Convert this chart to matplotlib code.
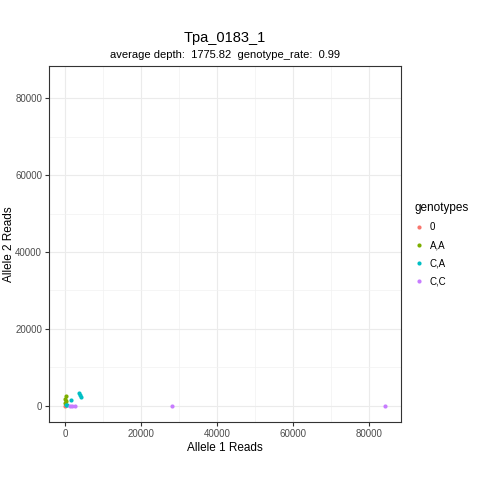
import matplotlib
matplotlib.use("Agg")
import matplotlib.pyplot as plt
from matplotlib.lines import Line2D
import numpy as np

plt.rcParams['font.family'] = ['Liberation Sans', 'DejaVu Sans']

genotypes = ["0", "A,A", "C,A", "C,C"]
colors = ["#F8766D", "#7CAE00", "#00BFC4", "#C77CFF"]
allele1 = {
    "0": [0],
    "A,A": [150, 80, 250, 0],
    "C,A": [1600, 3700, 3950, 4200, 300, 500],
    "C,C": [1300, 1900, 2600, 28200, 84200],
}
allele2 = {
    "0": [0],
    "A,A": [2500, 1800, 1200, 600],
    "C,A": [1500, 3200, 2750, 2300, 100, 300],
    "C,C": [50, 40, 30, 0, 0],
}
title = "Tpa_0183_1"
subtitle = "average depth:  1775.82  genotype_rate:  0.99"
ticks = [0, 20000, 40000, 60000, 80000]

fig = plt.figure(figsize=(4.8, 4.8), dpi=100)
ax = fig.add_axes([0.102, 0.121, 0.733, 0.7415])

for g, c in zip(genotypes, colors):
    ax.scatter(allele1[g], allele2[g], s=9, color=c, linewidths=0, zorder=3)

hi = 84200
pad = hi * 0.05
ax.set_xlim(-pad, hi + pad)
ax.set_ylim(-pad, hi + pad)
ax.set_xticks(ticks)
ax.set_yticks(ticks)
ax.set_xticks([10000, 30000, 50000, 70000], minor=True)
ax.set_yticks([10000, 30000, 50000, 70000], minor=True)
ax.grid(True, which="major", color="#EBEBEB", linewidth=0.8)
ax.grid(True, which="minor", color="#F2F2F2", linewidth=0.5)
ax.set_axisbelow(True)
ax.tick_params(which="minor", length=0)
ax.tick_params(which="major", length=3, color="#333333", labelsize=7, labelcolor="#4D4D4D", pad=2)
for sp in ax.spines.values():
    sp.set_color("#333333")
    sp.set_linewidth(0.8)

ax.set_xlabel("Allele 1 Reads", fontsize=8.5, labelpad=2)
ax.set_ylabel("Allele 2 Reads", fontsize=8.5)
ax.yaxis.set_label_coords(-0.097, 0.5)

fig.text(0.468, 0.912, title, ha="center", va="baseline", fontsize=10.5)
fig.text(0.468, 0.880, subtitle, ha="center", va="baseline", fontsize=8)

handles = [Line2D([0], [0], marker="o", linestyle="", markersize=3,
                  markerfacecolor=c, markeredgewidth=0) for c in colors]
leg = fig.legend(handles, genotypes, title="genotypes", loc="upper left",
                 bbox_to_anchor=(0.855, 0.588), frameon=False, fontsize=7,
                 title_fontsize=8.5, labelspacing=0.85, handletextpad=0.6,
                 handlelength=1.0, borderaxespad=0)
leg._legend_box.align = "left"
leg._legend_box.sep = 6

fig.savefig("out.png", dpi=100)
